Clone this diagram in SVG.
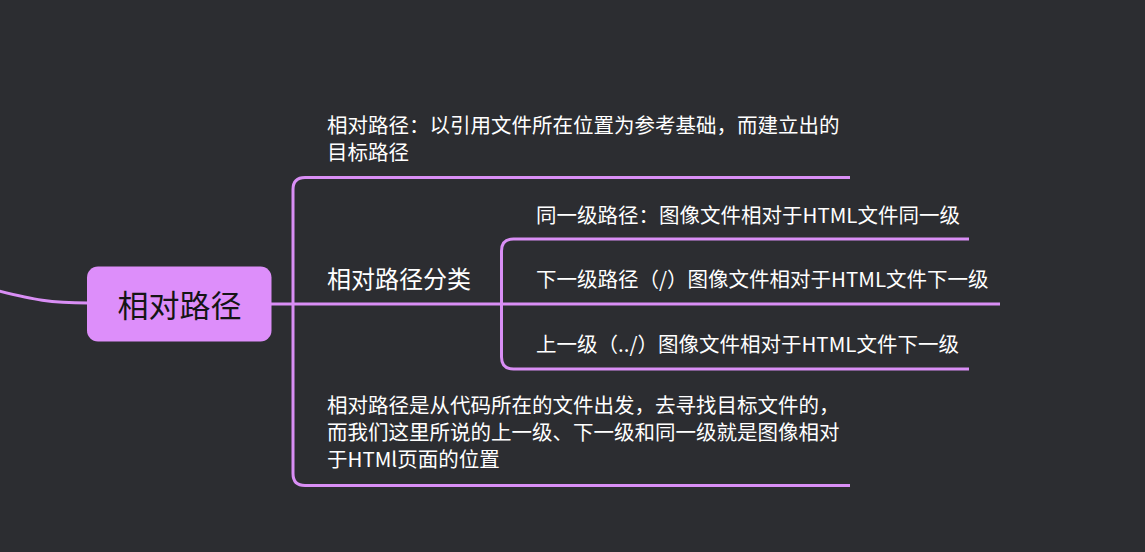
<svg xmlns="http://www.w3.org/2000/svg" width="1145" height="552" viewBox="0 0 1145 552">
<style>
.ln{fill:none;stroke:#d98ef5;stroke-width:3;stroke-linecap:butt}
.t{font-family:"Noto Sans CJK SC","Noto Sans",sans-serif;fill:#ffffff;font-size:20.5px}
.t2{font-family:"Noto Sans CJK SC","Noto Sans",sans-serif;fill:#ffffff;font-size:24px}
.c{font-family:"Noto Sans CJK SC","Noto Sans",sans-serif;fill:#151515;font-size:31px}
</style>
<rect width="1145" height="552" fill="#2c2d31"/>
<g id="connectors">
<path class="ln" d="M-5,290 C35,300 50,303 88,303"/>
<path class="ln" d="M271,304 H293"/>
<path class="ln" d="M850,177.5 H305 Q293,177.5 293,189.5 V473.5 Q293,485.5 305,485.5 H850"/>
<path class="ln" d="M293,304 H501.5"/>
<path class="ln" d="M969,239 H513.5 Q501.5,239 501.5,251 V357 Q501.5,369 513.5,369 H969"/>
<path class="ln" d="M501.5,304 H1000"/>
</g>
<g id="root">
<rect x="87" y="266.5" width="184.5" height="75" rx="11" fill="#dd8efa"/>
<text class="c" x="179.5" y="316.5" text-anchor="middle">相对路径</text>
</g>
<g id="n-def">
<text class="t" x="327" y="133">相对路径：以引用文件所在位置为参考基础，而建立出的<tspan x="327" dy="26.5">目标路径</tspan></text>
</g>
<g id="n-class">
<text class="t2" x="327" y="288">相对路径分类</text>
</g>
<g id="n-same">
<text class="t" x="536" y="222.5">同一级路径：图像文件相对于HTML文件同一级</text>
</g>
<g id="n-down">
<text class="t" x="536" y="287">下一级路径（/）图像文件相对于HTML文件下一级</text>
</g>
<g id="n-up">
<text class="t" x="536" y="351.5">上一级（../）图像文件相对于HTML文件下一级</text>
</g>
<g id="n-note">
<text class="t" x="327" y="413">相对路径是从代码所在的文件出发，去寻找目标文件的，<tspan x="327" dy="27">而我们这里所说的上一级、下一级和同一级就是图像相对</tspan><tspan x="327" dy="27">于HTMl页面的位置</tspan></text>
</g>
</svg>
